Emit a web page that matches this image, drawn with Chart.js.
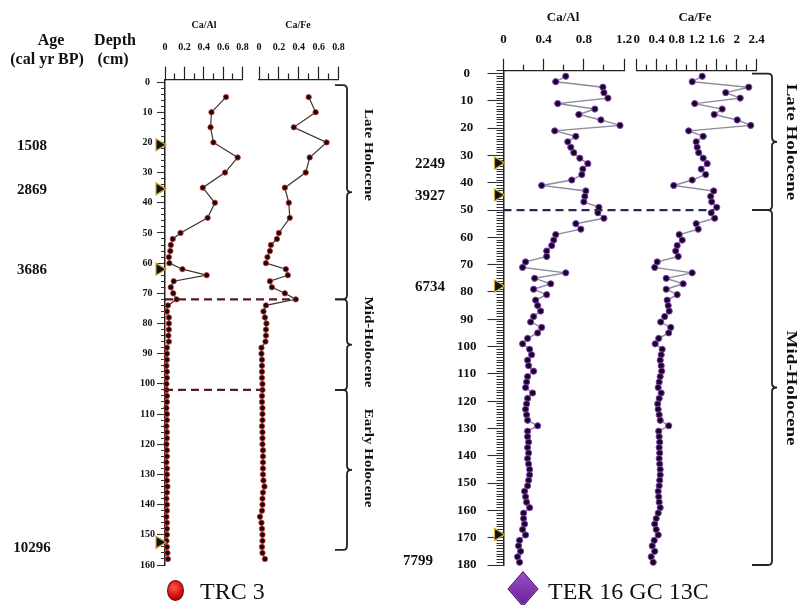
<!DOCTYPE html>
<html><head><meta charset="utf-8">
<script src="https://cdn.jsdelivr.net/npm/chart.js@4.4.0/dist/chart.umd.min.js"></script>
<style>
html,body{margin:0;padding:0;background:#fff;}
#wrap{position:relative;width:804px;height:605px;overflow:hidden;font-family:"Liberation Serif","Times New Roman",serif;color:#111;}
canvas{position:absolute;left:0;top:0;}
.t{position:absolute;white-space:nowrap;font-weight:bold;line-height:1;transform:translate(-50%,-50%);}
.z{position:absolute;white-space:nowrap;font-weight:bold;line-height:1;}
.lg{position:absolute;white-space:nowrap;line-height:1;font-size:24px;transform:translate(0,-50%);}
</style></head><body>
<div id="wrap">
<canvas id="c1" width="804" height="605"></canvas>
<canvas id="c2" width="804" height="605"></canvas>
<canvas id="c3" width="804" height="605"></canvas>
<canvas id="c4" width="804" height="605"></canvas>
</div>
<script>
// ===================== DATA =====================
// TRC 3 core (left)
const trcDepth = [5,10,15,20,25,30,35,40,45,50,
  52,54,56,58,60,62,64,66,68,70,72,
  74,76,78,80,82,84,86,88,90,92,94,96,98,100,102,104,106,108,110,112,114,116,118,120,
  122,124,126,128,130,132,134,136,138,140,142,144,146,148,150,152,154,156,158];
const trcCaAl = [0.63,0.48,0.47,0.50,0.75,0.62,0.39,0.515,0.44,0.16,
  0.08,0.06,0.055,0.04,0.045,0.18,0.43,0.09,0.06,0.085,0.12,
  0.03,0.02,0.04,0.04,0.04,0.035,0.04,0.02,0.02,0.02,0.015,0.02,0.02,0.015,0.015,0.02,0.02,0.015,0.02,0.02,0.015,0.02,0.02,0.015,
  0.02,0.02,0.015,0.02,0.02,0.02,0.025,0.02,0.015,0.02,0.02,0.015,0.02,0.02,0.02,0.015,0.02,0.025,0.03];
const trcCaFe = [0.50,0.57,0.35,0.68,0.51,0.47,0.26,0.30,0.31,0.20,
  0.18,0.12,0.11,0.085,0.07,0.27,0.29,0.11,0.13,0.26,0.37,
  0.07,0.045,0.06,0.075,0.07,0.07,0.065,0.025,0.025,0.03,0.03,0.03,0.03,0.035,0.035,0.03,0.03,0.035,0.035,0.035,0.03,0.035,0.035,0.035,
  0.04,0.04,0.04,0.04,0.04,0.045,0.055,0.04,0.035,0.035,0.03,0.01,0.025,0.03,0.035,0.035,0.03,0.035,0.06];
const trcAgeLabels = ['1508','2869','3686','10296'];
const trcAgeDepth = [20.8, 35.4, 62, 152.5];
const trcZoneNames = ['Late Holocene','Mid-Holocene','Early Holocene'];
const trcZoneTop = [1, 72, 102];
const trcZoneBottom = [72, 102, 155];
const trcBoundary = [72, 102];
const trcDepthTicks = [0,10,20,30,40,50,60,70,80,90,100,110,120,130,140,150,160];
const trcRatioTicks = [0,0.2,0.4,0.6,0.8];

// TER 16 GC 13C core (right)
const terDepth = [1,3,5,7,9,11,13,15,17,19,21,23,25,27,29,31,33,35,37,39,
  41,43,45,47,49,51,53,55,57,59,61,63,65,67,69,71,73,75,77,79,
  81,83,85,87,89,91,93,95,97,99,101,103,105,107,109,111,113,115,117,119,
  121,123,125,127,129,131,133,135,137,139,141,143,145,147,149,151,153,155,157,159,
  161,163,165,167,169,171,173,175,177,179];
const terCaAl = [0.62,0.52,0.99,1.00,1.04,0.54,0.91,0.75,0.97,1.16,
  0.51,0.72,0.64,0.67,0.70,0.76,0.84,0.79,0.78,0.68,
  0.38,0.82,0.81,0.80,0.95,0.94,1.00,0.72,0.77,0.52,
  0.50,0.48,0.43,0.43,0.22,0.19,0.62,0.31,0.47,0.30,
  0.43,0.32,0.34,0.37,0.30,0.27,0.38,0.34,0.24,0.19,
  0.26,0.28,0.24,0.25,0.30,0.24,0.23,0.22,0.29,0.24,
  0.23,0.22,0.23,0.24,0.34,0.24,0.24,0.25,0.24,0.25,
  0.24,0.25,0.26,0.26,0.25,0.24,0.21,0.22,0.23,0.26,
  0.20,0.20,0.21,0.19,0.22,0.16,0.15,0.17,0.14,0.16];
const terCaFe = [1.31,1.11,2.24,1.78,2.07,1.16,1.71,1.55,2.01,2.28,
  1.04,1.33,1.19,1.21,1.24,1.33,1.41,1.29,1.38,1.11,
  0.74,1.54,1.48,1.50,1.60,1.49,1.56,1.19,1.23,0.85,
  0.91,0.81,0.78,0.83,0.41,0.36,1.11,0.59,0.93,0.59,
  0.81,0.61,0.63,0.65,0.56,0.48,0.68,0.64,0.44,0.37,
  0.51,0.49,0.47,0.49,0.50,0.47,0.45,0.43,0.49,0.45,
  0.42,0.43,0.45,0.47,0.64,0.44,0.45,0.46,0.45,0.46,
  0.45,0.46,0.47,0.47,0.46,0.45,0.43,0.44,0.45,0.47,
  0.43,0.39,0.36,0.39,0.43,0.35,0.31,0.36,0.29,0.33];
const terAgeLabels = ['2249','3927','6734','7799'];
const terAgeDepth = [32.8, 44.5, 77.8, 168.8];
const terZoneNames = ['Late Holocene','Mid-Holocene'];
const terZoneTop = [0, 50];
const terZoneBottom = [50, 180];
const terBoundary = [50];
const terDepthTicks = [0,10,20,30,40,50,60,70,80,90,100,110,120,130,140,150,160,170,180];
const terCaAlTicks = [0,0.4,0.8,1.2];
const terCaFeTicks = [0,0.4,0.8,1.2,1.6,2,2.4];

// ===================== LAYOUT =====================
const W = 804, H = 605;
const FONT = '"Liberation Serif","Times New Roman",serif';
const L = {
  trcAl: {l:165, r:242.5, t:79.6, b:565, yW:40},
  trcFe: {l:259, r:338.5, t:79.6, b:565, yW:0},
  terAl: {l:503.5, r:624, t:70.8, b:565, yW:70},
  terFe: {l:636.7, r:756.7, t:70.8, b:565, yW:0}
};
const ageShiftTrc = [{dx:0,dy:0},{dx:0,dy:0},{dx:0,dy:0},{dx:0,dy:5}];
const ageShiftTer = [{dx:0,dy:0},{dx:0,dy:0},{dx:0,dy:0},{dx:-12,dy:26}];
const zoneShiftTrc = [-37, -3, -12];
const zoneShiftTer = [0, 0];

function has(list, v){ return list.some(t => Math.abs(t - v) < 1e-6); }
function fmt(v){ return String(Math.round(v * 10) / 10); }
function interp(ds, vs, d){
  for (let i = 0; i < ds.length - 1; i++) {
    if (d >= ds[i] && d <= ds[i+1]) { const f = (d - ds[i]) / (ds[i+1] - ds[i]); return vs[i] + f * (vs[i+1] - vs[i]); }
  }
  return vs[vs.length - 1];
}

function ratioChart(id, c) {
  const pts = c.depth.map((d, i) => ({x: c.values[i], y: d}));
  const yW = c.area.yW;
  return new Chart(document.getElementById(id), {
    type: 'scatter',
    data: {datasets: [{data: pts, showLine: true, tension: 0, clip: false,
      borderColor: c.line, borderWidth: c.lineW,
      pointRadius: c.r, pointBackgroundColor: c.fill, pointBorderColor: c.edge, pointBorderWidth: c.edgeW}]},
    options: {
      responsive: false, animation: false, events: [],
      layout: {padding: {left: c.area.l - yW, right: W - c.area.r, top: 0, bottom: H - c.area.b}},
      plugins: {legend: {display: false}, tooltip: {enabled: false}},
      scales: {
        x: {type: 'linear', position: 'top', min: c.xMin, max: c.xMax,
          afterFit: s => { s.height = c.area.t; },
          ticks: {stepSize: c.xStep, autoSkip: false, maxRotation: 0, padding: c.xPad, color: '#111',
            font: {family: FONT, size: c.xFont, weight: 'bold'},
            callback: v => has(c.xLabels, v) ? fmt(v) : ''},
          grid: {drawOnChartArea: false, tickLength: c.xTL, tickWidth: 1.2, tickColor: '#222',
            tickBorderDash: k => (k.tick && !has(c.xLabels, k.tick.value)) ? [0, c.xTL - c.xTm, c.xTm, 200] : []},
          border: {display: true, color: '#222', width: 1.3}},
        y: {type: 'linear', reverse: true, min: c.yMin, max: c.yMax, display: yW > 0,
          afterFit: s => { s.width = yW; },
          ticks: {stepSize: c.yStep, includeBounds: false, autoSkip: false, padding: c.yPad, crossAlign: 'center',
            color: '#111', font: {family: FONT, size: c.yFont, weight: 'bold'},
            callback: v => has(c.yLabels, v) ? String(v) : ''},
          grid: {drawOnChartArea: false, tickLength: c.yTL, tickWidth: 1.1, tickColor: '#333',
            tickBorderDash: k => (k.tick && !has(c.yLabels, k.tick.value)) ? [0, c.yTL - c.yTm, c.yTm, 200] : []},
          border: {display: true, color: '#222', width: 1.5}}
      }
    },
    plugins: c.plugins || []
  });
}

function brace(ctx, x, y0, y1, w, tip) {
  const r = 4, m = (y0 + y1) / 2;
  ctx.beginPath();
  ctx.moveTo(x - w, y0);
  ctx.lineTo(x - r, y0);
  ctx.quadraticCurveTo(x, y0, x, y0 + r);
  ctx.lineTo(x, m - 4);
  ctx.quadraticCurveTo(x, m, x + tip, m);
  ctx.quadraticCurveTo(x, m, x, m + 4);
  ctx.lineTo(x, y1 - r);
  ctx.quadraticCurveTo(x, y1, x - r, y1);
  ctx.lineTo(x - w, y1);
  ctx.stroke();
}

function decorPlugin(s) {
  return {id: 'decor', afterDatasetsDraw(chart) {
    const ctx = chart.ctx, y = chart.scales.y, xf = chart.scales.x;
    const axisX = s.alArea.l;
    ctx.save();
    ctx.strokeStyle = s.dashColor; ctx.lineWidth = 2.3; ctx.setLineDash([8, 5]);
    s.boundary.forEach(b => {
      const yy = y.getPixelForValue(b);
      const x1 = xf.getPixelForValue(interp(s.depth, s.fe, b));
      ctx.beginPath(); ctx.moveTo(axisX, yy); ctx.lineTo(x1, yy); ctx.stroke();
    });
    ctx.setLineDash([]);
    s.ageDepth.forEach(d => {
      const yy = y.getPixelForValue(d);
      ctx.beginPath();
      ctx.moveTo(axisX + 1, yy); ctx.lineTo(axisX - 9, yy - 6); ctx.lineTo(axisX - 9, yy + 6); ctx.closePath();
      ctx.fillStyle = '#111'; ctx.fill();
      ctx.strokeStyle = '#c9a83a'; ctx.lineWidth = 1.2; ctx.stroke();
    });
    ctx.strokeStyle = '#222'; ctx.lineWidth = 1.8;
    s.zoneTop.forEach((t, i) => {
      brace(ctx, s.braceX, y.getPixelForValue(t), y.getPixelForValue(s.zoneBottom[i]), s.braceW, 5);
    });
    ctx.restore();
  }};
}

const leftStyle = {line: '#3a3535', lineW: 1.2, r: 2.7, fill: '#1c0606', edge: '#d03a3a', edgeW: 0.8};
const rightStyle = {line: '#8e8c9c', lineW: 1.4, r: 3.1, fill: '#140820', edge: '#8a3cc0', edgeW: 1};

const trcAxis = {yMin: -0.8, yMax: 160, yStep: 2, yLabels: trcDepthTicks, yPad: 2, yFont: 10, yTL: 8, yTm: 4,
  xMin: 0, xMax: 0.8, xStep: 0.1, xLabels: trcRatioTicks, xPad: 13, xFont: 10, xTL: 13, xTm: 6};
const terAxis = {yMin: -1, yMax: 180, yStep: 1, yLabels: terDepthTicks, yPad: 11, yFont: 13, yTL: 16, yTm: 7,
  xMin: 0, xStep: 0.2, xPad: 11, xFont: 13, xTL: 12, xTm: 6};

const c1 = ratioChart('c1', Object.assign({}, trcAxis, leftStyle, {depth: trcDepth, values: trcCaAl, area: L.trcAl}));
const c2 = ratioChart('c2', Object.assign({}, trcAxis, leftStyle, {depth: trcDepth, values: trcCaFe, area: L.trcFe,
  plugins: [decorPlugin({alArea: L.trcAl, depth: trcDepth, fe: trcCaFe, boundary: trcBoundary, ageDepth: trcAgeDepth,
    zoneTop: trcZoneTop, zoneBottom: trcZoneBottom, braceX: 347, braceW: 12, dashColor: '#5a1a24'})]}));
const c3 = ratioChart('c3', Object.assign({}, terAxis, rightStyle, {depth: terDepth, values: terCaAl, area: L.terAl, xMax: 1.2, xLabels: terCaAlTicks}));
const c4 = ratioChart('c4', Object.assign({}, terAxis, rightStyle, {depth: terDepth, values: terCaFe, area: L.terFe, xMax: 2.4, xLabels: terCaFeTicks,
  plugins: [decorPlugin({alArea: L.terAl, depth: terDepth, fe: terCaFe, boundary: terBoundary, ageDepth: terAgeDepth,
    zoneTop: terZoneTop, zoneBottom: terZoneBottom, braceX: 772, braceW: 20, dashColor: '#2c2852'})]}));

// ===================== TEXT =====================
const wrap = document.getElementById('wrap');
function addText(txt, x, y, size, cls, extra) {
  const d = document.createElement('div');
  d.className = cls || 't';
  d.textContent = txt;
  d.style.left = x + 'px'; d.style.top = y + 'px'; d.style.fontSize = size + 'px';
  if (extra) Object.assign(d.style, extra);
  wrap.appendChild(d);
  return d;
}
addText('Age', 51, 40, 16);
addText('(cal yr BP)', 47, 59, 16);
addText('Depth', 115, 40, 16);
addText('(cm)', 113, 59, 16);
addText('Ca/Al', 204, 25, 10);
addText('Ca/Fe', 298, 25, 10);
addText('Ca/Al', 563, 16, 13);
addText('Ca/Fe', 695, 16, 13);
trcAgeLabels.forEach((a, i) => addText(a, 32 + ageShiftTrc[i].dx, c1.scales.y.getPixelForValue(trcAgeDepth[i]) + ageShiftTrc[i].dy, 15));
terAgeLabels.forEach((a, i) => addText(a, 430 + ageShiftTer[i].dx, c3.scales.y.getPixelForValue(terAgeDepth[i]) + ageShiftTer[i].dy, 15));
trcZoneNames.forEach((n, i) => {
  const yc = (c2.scales.y.getPixelForValue(trcZoneTop[i]) + c2.scales.y.getPixelForValue(trcZoneBottom[i])) / 2 + zoneShiftTrc[i];
  addText(n, 369, yc, 15, 'z', {transform: 'translate(-50%,-50%) rotate(90deg) scaleY(0.85)'});
});
terZoneNames.forEach((n, i) => {
  const yc = (c4.scales.y.getPixelForValue(terZoneTop[i]) + c4.scales.y.getPixelForValue(terZoneBottom[i])) / 2 + zoneShiftTer[i];
  addText(n, 792, yc, 19, 'z', {transform: 'translate(-50%,-50%) rotate(90deg) scaleY(0.8)'});
});
const m1 = document.createElement('div');
Object.assign(m1.style, {position: 'absolute', left: '167px', top: '580px', width: '17px', height: '21px', borderRadius: '50%',
  background: 'radial-gradient(circle at 40% 35%, #ff5a4a, #d01010 55%, #8a0000)', boxSizing: 'border-box', border: '1px solid #700'});
wrap.appendChild(m1);
addText('TRC 3', 200, 591, 24, 'lg');
const m2 = document.createElement('div');
Object.assign(m2.style, {position: 'absolute', left: '512px', top: '578px', width: '20px', height: '20px',
  background: 'linear-gradient(135deg, #9a4cc8, #6a2098)', border: '1px solid #4a1070', transform: 'scaleY(1.15) rotate(45deg)'});
wrap.appendChild(m2);
addText('TER 16 GC 13C', 548, 591, 24, 'lg');
</script>
</body></html>
